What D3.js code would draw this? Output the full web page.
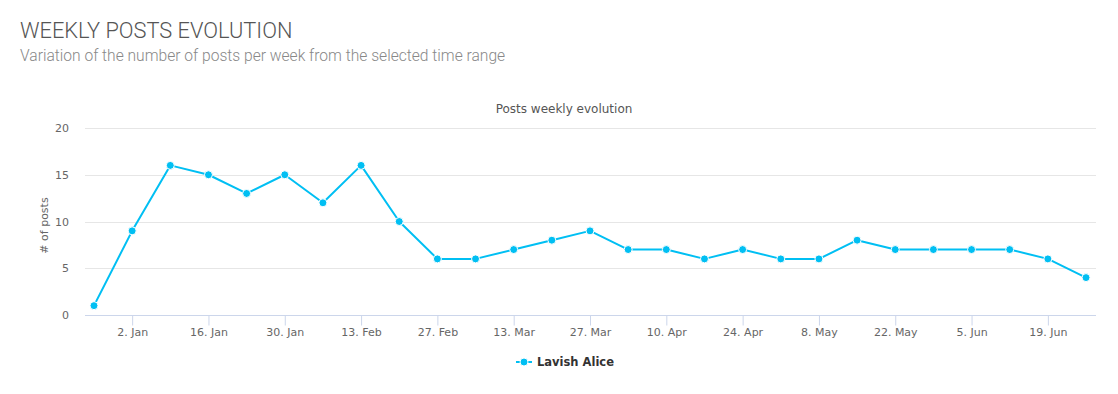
<!DOCTYPE html>
<html>
<head>
<meta charset="utf-8">
<script src="https://cdn.jsdelivr.net/npm/d3@7"></script>
<style>
  body { margin: 0; background: #fff; }
  .hdr-title { font-family: Roboto, "Liberation Sans", sans-serif; font-weight: 300; font-size: 21.8px; fill: #555; }
  .hdr-sub { font-family: Roboto, "Liberation Sans", sans-serif; font-weight: 300; font-size: 15.6px; fill: #888; }
  .chart-title { font-family: "DejaVu Sans", sans-serif; font-size: 12px; fill: #555; }
  .axis-label { font-family: "DejaVu Sans", sans-serif; font-size: 11px; fill: #666; }
  .legend-text { font-family: "DejaVu Sans", sans-serif; font-size: 11.5px; font-weight: bold; fill: #333; }
</style>
</head>
<body>
<svg id="chart"></svg>
<script>
// weekly buckets (Monday of each week)
const weeks = [
  "2016-12-26", "2017-01-02", "2017-01-09", "2017-01-16", "2017-01-23", "2017-01-30",
  "2017-02-06", "2017-02-13", "2017-02-20", "2017-02-27", "2017-03-06", "2017-03-13",
  "2017-03-20", "2017-03-27", "2017-04-03", "2017-04-10", "2017-04-17", "2017-04-24",
  "2017-05-01", "2017-05-08", "2017-05-15", "2017-05-22", "2017-05-29", "2017-06-05",
  "2017-06-12", "2017-06-19", "2017-06-26"
];
const posts = [1, 9, 16, 15, 13, 15, 12, 16, 10, 6, 6, 7, 8, 9, 7, 7, 6, 7, 6, 6, 8, 7, 7, 7, 7, 6, 4];
const xTicks = [
  "2017-01-02", "2017-01-16", "2017-01-30", "2017-02-13", "2017-02-27", "2017-03-13",
  "2017-03-27", "2017-04-10", "2017-04-24", "2017-05-08", "2017-05-22", "2017-06-05", "2017-06-19"
];
const yTicks = [0, 5, 10, 15, 20];
const seriesName = "Lavish Alice";

const W = 1118, H = 394;
const mg = { top: 128, right: 22, bottom: 79, left: 85 };
const color = "#00bff3";

const parse = d3.timeParse("%Y-%m-%d");
const dates = weeks.map(parse);
const DAY = 864e5;

const svg = d3.select("#chart").attr("width", W).attr("height", H);

svg.append("text").attr("class", "hdr-title").attr("x", 20).attr("y", 38).text("WEEKLY POSTS EVOLUTION");
svg.append("text").attr("class", "hdr-sub").attr("x", 20).attr("y", 61)
  .text("Variation of the number of posts per week from the selected time range");

const x = d3.scaleTime()
  .domain([new Date(+dates[0] - 1.65 * DAY), new Date(+dates[dates.length - 1] + 1.83 * DAY)])
  .range([mg.left, W - mg.right]);
const y = d3.scaleLinear().domain([0, 20]).range([H - mg.bottom, mg.top]);

svg.append("text").attr("class", "chart-title")
  .attr("x", 564).attr("y", 113)
  .attr("text-anchor", "middle").text("Posts weekly evolution");

// grid + y labels
const gy = svg.append("g");
yTicks.forEach((t) => {
  if (t > 0) {
    gy.append("line").attr("x1", mg.left).attr("x2", W - mg.right)
      .attr("y1", Math.round(y(t)) + 0.5).attr("y2", Math.round(y(t)) + 0.5)
      .attr("stroke", "#e6e6e6");
  }
  gy.append("text").attr("class", "axis-label").attr("x", 69).attr("y", y(t) + 4)
    .attr("text-anchor", "end").text(t);
});

svg.append("text").attr("class", "axis-label")
  .attr("transform", `translate(48,${y(10) + 4}) rotate(-90)`)
  .attr("text-anchor", "middle").attr("font-size", "13.5px").text("# of posts");

// x axis
const xAxis = d3.axisBottom(x)
  .tickValues(xTicks.map(parse))
  .tickSize(10)
  .tickPadding(3)
  .tickFormat(d3.timeFormat("%-d. %b"));
const gx = svg.append("g")
  .attr("transform", `translate(0,${Math.round(y(0)) + 0.5})`)
  .call(xAxis);
gx.select(".domain").attr("stroke", "#ccd6eb").attr("d", `M${mg.left},0H${W - mg.right}`);
gx.selectAll(".tick line").attr("stroke", "#ccd6eb");
gx.selectAll(".tick text").attr("class", "axis-label").attr("fill", null);

// series
const line = d3.line().x((d, i) => x(dates[i])).y((d) => y(d));
svg.append("path").datum(posts)
  .attr("d", line).attr("fill", "none")
  .attr("stroke", color).attr("stroke-width", 2).attr("stroke-linejoin", "round");

svg.append("g").selectAll("circle").data(posts).join("circle")
  .attr("cx", (d, i) => x(dates[i])).attr("cy", (d) => y(d))
  .attr("r", 4).attr("fill", color).attr("stroke", "#fff").attr("stroke-width", 1);

// legend
const lg = svg.append("g").attr("transform", "translate(516,362)");
lg.append("line").attr("x1", 0).attr("x2", 16).attr("y1", 0).attr("y2", 0)
  .attr("stroke", color).attr("stroke-width", 2);
lg.append("circle").attr("cx", 8).attr("cy", 0).attr("r", 4).attr("fill", color)
  .attr("stroke", "#fff").attr("stroke-width", 1);
lg.append("text").attr("class", "legend-text").attr("x", 21).attr("y", 4).text(seriesName);
</script>
</body>
</html>
